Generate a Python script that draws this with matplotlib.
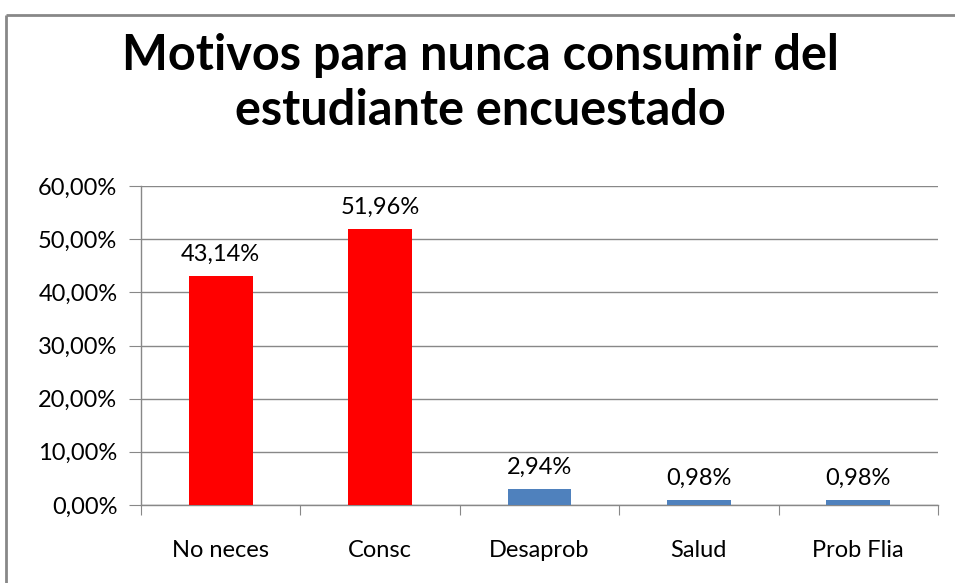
import matplotlib
matplotlib.use("Agg")
import matplotlib.pyplot as plt
from matplotlib.ticker import FuncFormatter, MultipleLocator
from matplotlib.lines import Line2D

categories = ["No neces", "Consc", "Desaprob", "Salud", "Prob Flia"]
values = [43.14, 51.96, 2.94, 0.98, 0.98]
colors = ["#FF0000", "#FF0000", "#4F81BD", "#4F81BD", "#4F81BD"]
title = "Motivos para nunca consumir del\nestudiante encuestado"

plt.rcParams['font.family'] = ['Lato', 'DejaVu Sans']

W, H = 955, 583
fig = plt.figure(figsize=(W / 100, H / 100), dpi=100)
fig.patch.set_facecolor("white")

x0, x1 = 141, 938
y0, y1 = 505, 186
ax = fig.add_axes([x0 / W, 1 - y0 / H, (x1 - x0) / W, (y0 - y1) / H])

xs = list(range(len(categories)))
ax.bar(xs, values, width=0.40, color=colors, zorder=3)
ax.set_xlim(-0.5, len(categories) - 0.5)
ax.set_ylim(0, 60)
ax.yaxis.set_major_locator(MultipleLocator(10))
ax.yaxis.set_major_formatter(FuncFormatter(lambda v, p: f"{v:.2f}%".replace(".", ",")))
ax.grid(axis="y", color="#888888", linewidth=1.0, zorder=0)
ax.set_xticks([i - 0.5 for i in range(len(categories) + 1)])
ax.set_xticklabels([])
ax.set_xticks(xs, minor=True)
ax.set_xticklabels(categories, minor=True)
ax.tick_params(axis="x", which="minor", length=0, pad=25, labelsize=17)
ax.tick_params(axis="x", which="major", length=7, direction="out", color="#888888")
ax.tick_params(axis="y", length=9, direction="out", color="#888888", labelsize=17, pad=8)
for s in ["top", "right"]:
    ax.spines[s].set_visible(False)
for s in ["left", "bottom"]:
    ax.spines[s].set_color("#888888")
    ax.spines[s].set_linewidth(1.0)

for x, v in zip(xs, values):
    ax.annotate(f"{v:.2f}%".replace(".", ","), (x, v), xytext=(0, 8),
                textcoords="offset points", ha="center", va="bottom", fontsize=17)

fig.text(0.5 * (6 + W) / W, 1 - 83 / H, title, ha="center", va="center",
         fontsize=35, fontweight="bold", linespacing=1.25)

# outer frame (left and top)
fig.add_artist(Line2D([6 / W, 6 / W], [1 - 15 / H, 0], transform=fig.transFigure,
                      color="#888888", linewidth=2, solid_capstyle="butt"))
fig.add_artist(Line2D([6 / W, 1.0], [1 - 15 / H, 1 - 15 / H], transform=fig.transFigure,
                      color="#888888", linewidth=2, solid_capstyle="butt"))

fig.savefig("out.png", dpi=100, facecolor="white")
